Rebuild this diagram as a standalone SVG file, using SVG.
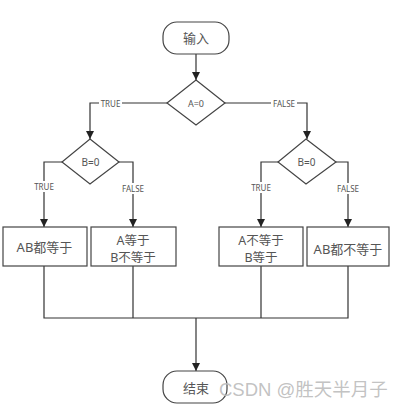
<svg xmlns="http://www.w3.org/2000/svg" width="404" height="409" viewBox="0 0 404 409">
<style>
.shape{fill:#fff;stroke:#444;stroke-width:1.2}
.line{fill:none;stroke:#333;stroke-width:1.2}
.t{font-family:"Noto Sans","Noto Sans CJK SC",sans-serif;fill:#555;text-anchor:middle;dominant-baseline:central}
.big{font-size:13px}
.two{font-size:12.5px}
.lbl{font-size:8px}
.bg{fill:#fff}
</style>
<defs>
<marker id="arr" viewBox="0 0 8 10" refX="8" refY="5" markerWidth="8" markerHeight="10" markerUnits="userSpaceOnUse" orient="auto">
<path d="M0,1 L8,5 L0,9 Z" fill="#222"/>
</marker>
</defs>
<rect width="404" height="409" fill="#fff"/>
<g id="connectors">
<path class="line" d="M196,54 V80" marker-end="url(#arr)"/>
<path class="line" d="M167,103 H90 V139" marker-end="url(#arr)"/>
<path class="line" d="M225,103 H307 V139" marker-end="url(#arr)"/>
<path class="line" d="M62,162 H44 V227" marker-end="url(#arr)"/>
<path class="line" d="M119,162 H133 V227" marker-end="url(#arr)"/>
<path class="line" d="M278,162 H261 V227" marker-end="url(#arr)"/>
<path class="line" d="M336,162 H348 V227" marker-end="url(#arr)"/>
<path class="line" d="M44,266 V318 M133,266 V318 M261,266 V318 M348,266 V318 M43.4,318 H348.6"/>
<path class="line" d="M196,318 V371" marker-end="url(#arr)"/>
<rect class="bg" x="99" y="98" width="23" height="10"/>
<text class="t lbl" x="110.5" y="103">TRUE</text>
<rect class="bg" x="271" y="98" width="26" height="10"/>
<text class="t lbl" x="284" y="103">FALSE</text>
<rect class="bg" x="33" y="181" width="22" height="11"/>
<text class="t lbl" x="44" y="186.5">TRUE</text>
<rect class="bg" x="120" y="183" width="26" height="11"/>
<text class="t lbl" x="133" y="188.5">FALSE</text>
<rect class="bg" x="250" y="182" width="22" height="11"/>
<text class="t lbl" x="261" y="187.5">TRUE</text>
<rect class="bg" x="335" y="183" width="26" height="11"/>
<text class="t lbl" x="348" y="188.5">FALSE</text>
</g>
<g id="start">
<rect class="shape" x="163" y="22" width="66" height="32" rx="14" ry="14"/>
<text class="t big" x="196" y="38">输入</text>
</g>
<g id="decA">
<path class="shape" d="M196,80 L225,103 L196,125 L167,103 Z"/>
<text class="t" style="font-size:9px" x="196" y="103">A=0</text>
</g>
<g id="decB1">
<path class="shape" d="M90,139 L119,162 L90,184 L62,162 Z"/>
<text class="t" style="font-size:10px" x="90.5" y="162">B=0</text>
</g>
<g id="decB2">
<path class="shape" d="M306,139 L336,162 L306,184 L278,162 Z"/>
<text class="t" style="font-size:10px" x="306.5" y="162">B=0</text>
</g>
<g id="box1">
<rect class="shape" x="3" y="227" width="84" height="39"/>
<text class="t big" x="44.5" y="246.5">AB都等于</text>
</g>
<g id="box2">
<rect class="shape" x="91" y="227" width="85" height="39"/>
<text class="t two" x="133" y="240">A等于</text>
<text class="t two" x="133" y="257">B不等于</text>
</g>
<g id="box3">
<rect class="shape" x="219" y="227" width="84" height="39"/>
<text class="t two" x="261" y="240">A不等于</text>
<text class="t two" x="261" y="257">B等于</text>
</g>
<g id="box4">
<rect class="shape" x="307" y="227" width="82" height="39"/>
<text class="t big" x="348" y="248.5">AB都不等于</text>
</g>
<g id="end">
<rect class="shape" x="163" y="371" width="64" height="32" rx="14" ry="14"/>
<text class="t big" x="196" y="388">结束</text>
</g>
<text x="219" y="389" style="font-family:'Liberation Sans','Noto Sans CJK SC',sans-serif;font-size:18.5px;fill:#bbb;fill-opacity:0.9;dominant-baseline:central">CSDN @胜天半月子</text>
</svg>
